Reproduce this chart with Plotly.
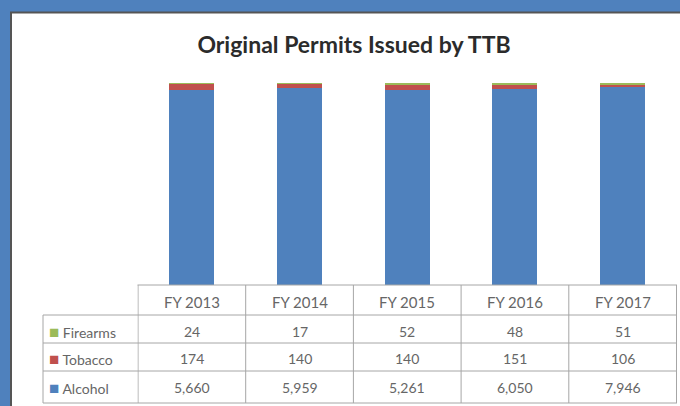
import plotly.graph_objects as go

categories = ["FY 2013", "FY 2014", "FY 2015", "FY 2016", "FY 2017"]
firearms = [24, 17, 52, 48, 51]
tobacco = [174, 140, 140, 151, 106]
alcohol = [5660, 5959, 5261, 6050, 7946]
series_names = ["Firearms", "Tobacco", "Alcohol"]
colors = {"Alcohol": "#4F81BD", "Tobacco": "#C0504D", "Firearms": "#9BBB59"}
title_text = "Original Permits Issued by TTB"

W, H = 680, 406
FONT = "Lato, 'Open Sans', sans-serif"
TXT = "#666666"
GRID = "#A6A6A6"


def py(p):
    """pixel-from-top -> paper y"""
    return 1 - p / H


def px(p):
    return p / W


fig = go.Figure()

for name, vals in [("Alcohol", alcohol), ("Tobacco", tobacco), ("Firearms", firearms)]:
    fig.add_trace(go.Bar(
        x=categories, y=vals, name=name,
        marker=dict(color=colors[name], line=dict(width=0)),
        showlegend=False, hoverinfo="skip",
    ))

# ---- data table geometry (pixels) ----
TBL_L, LBL_R, TBL_R = 43, 137.5, 677
ROW_LINES = [285, 315, 343, 371, 403]
ROW_TEXT_Y = {"header": 302, "Firearms": 331, "Tobacco": 358, "Alcohol": 387}

shapes = [
    # white panel inside blue frame
    dict(type="rect", xref="paper", yref="paper", x0=px(12), x1=1, y0=0, y1=py(13),
         fillcolor="white", line=dict(width=0), layer="below"),
    dict(type="line", xref="paper", yref="paper", x0=px(10), x1=1, y0=py(12.5), y1=py(12.5),
         line=dict(color="#555555", width=2), layer="below"),
    dict(type="line", xref="paper", yref="paper", x0=px(11), x1=px(11), y0=0, y1=py(12),
         line=dict(color="#555555", width=2), layer="below"),
]

# horizontal table lines
shapes.append(dict(type="line", xref="paper", yref="paper", x0=px(LBL_R), x1=px(TBL_R),
                   y0=py(ROW_LINES[0]), y1=py(ROW_LINES[0]), line=dict(color=GRID, width=1)))
for r in ROW_LINES[1:]:
    shapes.append(dict(type="line", xref="paper", yref="paper", x0=px(TBL_L), x1=px(TBL_R),
                       y0=py(r), y1=py(r), line=dict(color=GRID, width=1)))
# vertical table lines
shapes.append(dict(type="line", xref="paper", yref="paper", x0=px(TBL_L), x1=px(TBL_L),
                   y0=py(ROW_LINES[1]), y1=py(ROW_LINES[-1]), line=dict(color=GRID, width=1)))
for k in range(len(categories) + 1):
    shapes.append(dict(type="line", xref="x", yref="paper", x0=k - 0.5, x1=k - 0.5,
                       y0=py(ROW_LINES[0]), y1=py(ROW_LINES[-1]), line=dict(color=GRID, width=1)))

annotations = []
font = dict(family=FONT, size=14, color=TXT)
hfont = dict(family=FONT, size=15, color=TXT)
for c in categories:
    annotations.append(dict(x=c, xref="x", y=py(ROW_TEXT_Y["header"]), yref="paper",
                            text=c, showarrow=False, xanchor="center", yanchor="middle", font=hfont))
row_vals = {"Firearms": firearms, "Tobacco": tobacco, "Alcohol": alcohol}
for n in series_names:
    yy = py(ROW_TEXT_Y[n])
    annotations.append(dict(x=px(47), xref="paper", y=yy, yref="paper",
                            text=f'<span style="color:{colors[n]};font-size:17px">■</span> {n}',
                            showarrow=False, xanchor="left", yanchor="middle", font=font))
    for c, v in zip(categories, row_vals[n]):
        annotations.append(dict(x=c, xref="x", y=yy, yref="paper", text=f"{v:,}",
                                showarrow=False, xanchor="center", yanchor="middle", font=font))

fig.update_layout(
    width=W, height=H,
    barmode="stack", barnorm="percent", bargap=0.583,
    margin=dict(l=0, r=0, t=0, b=0),
    paper_bgcolor="#4F81BD",
    plot_bgcolor="rgba(0,0,0,0)",
    title=dict(
        text=f"<b>{title_text}</b>", x=px(354), y=py(45), xanchor="center", yanchor="middle",
        xref="paper", yref="paper",
        font=dict(family=FONT, size=23, color="#2b2b2b"),
    ),
    xaxis=dict(domain=[px(LBL_R), px(TBL_R)], visible=False, fixedrange=True),
    yaxis=dict(domain=[py(285), py(83)], range=[0, 100], visible=False, fixedrange=True),
    shapes=shapes,
    annotations=annotations,
)

fig.write_html("out.html", config={"displayModeBar": False},
               post_script="document.body.style.margin='0';document.body.style.overflow='hidden';")
